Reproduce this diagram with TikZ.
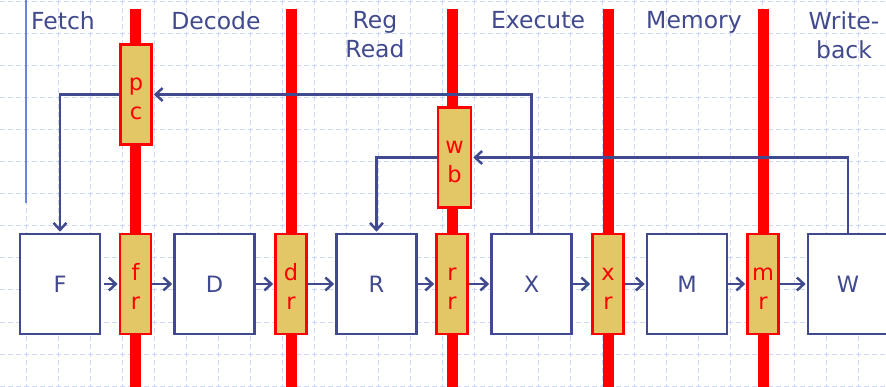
\documentclass[tikz,border=0pt]{standalone}
\usepackage{fontspec}
\setmainfont{DejaVu Sans}
\usetikzlibrary{arrows.meta}

\definecolor{navy}{HTML}{414A8E}
\definecolor{gold}{HTML}{E3C766}
\definecolor{pipered}{HTML}{FF0000}
\definecolor{gridblue}{HTML}{CCD8F6}
\definecolor{edgeblue}{HTML}{6B84E0}

% two stacked letters inside a pipeline register
\newcommand\regtxt[2]{\rule{0pt}{21pt}\smash{#1}\\\smash{#2}}

\begin{document}
\begin{tikzpicture}[x=1pt,y=-1pt,
  gridline/.style={gridblue, line width=1pt, dash pattern=on 5pt off 3pt},
  bar/.style={pipered, line width=11pt},
  stage/.style={draw=navy, fill=white, line width=2.6pt, minimum width=80pt,
    minimum height=100pt, inner sep=0pt, text=navy,
    font=\fontsize{22.5}{26}\selectfont},
  reg/.style={draw=pipered, fill=gold, line width=2.6pt, minimum width=31pt,
    minimum height=100pt, inner sep=0pt, text=pipered, align=center,
    font=\fontsize{22.5}{29}\selectfont},
  head/.style={text=navy, align=center, anchor=north, inner sep=0pt,
    font=\fontsize{23.5}{29}\selectfont},
  wire/.style={navy, line width=2.5pt},
  flow/.style={wire, -{Straight Barb[length=7pt,width=13pt]}, shorten >=1pt},
]
\useasboundingbox (0,0) rectangle (886,387);
\fill[white] (0,0) rectangle (886,387);

% background grid
\foreach \gx in {26,58,...,890} \draw[gridline] (\gx,0) -- (\gx,387);
\foreach \gy in {2,34,...,386} \draw[gridline] (0,\gy) -- (886,\gy);
\draw[edgeblue, line width=2pt] (26,0) -- (26,203);

% stage boundaries
\foreach \bx in {135.5,291,452,608,763} \draw[bar] (\bx,9) -- (\bx,387);

% stage headings
\node[head] (hF) at (63,11.5)  {Fetch};
\node[head] (hD) at (216,11.5) {Decode};
\node[head] (hR) at (375,11.5) {Reg\\Read};
\node[head] (hX) at (538,11.5) {Execute};
\node[head] (hM) at (694,11.5) {Memory};
\node[head] (hW) at (844,11.5) {Write-\\back};

% stage logic
\node[stage] (F) at (60,284)    {F};
\node[stage] (D) at (214.5,284) {D};
\node[stage] (R) at (376.5,284) {R};
\node[stage] (X) at (531.5,284) {X};
\node[stage] (M) at (687,284)   {M};
\node[stage] (W) at (848,284)   {W};

% pipeline registers
\node[reg] (fr) at (135.5,284) {\regtxt{f}{r}};
\node[reg] (dr) at (291,284)   {\regtxt{d}{r}};
\node[reg] (rr) at (452,284)   {\regtxt{r}{r}};
\node[reg] (xr) at (608,284)   {\regtxt{x}{r}};
\node[reg] (mr) at (763,284)   {\regtxt{m}{r}};
\node[reg] (pc) at (136,94.5)  {\regtxt{p}{c}};
\node[reg, minimum width=33pt] (wb) at (454.5,157.5) {\regtxt{w}{b}};

% forward datapath
\draw[flow, shorten <=3pt] (F) -- (fr);
\draw[flow] (fr) -- (D);
\draw[flow] (D) -- (dr);
\draw[flow] (dr) -- (R);
\draw[flow] (R) -- (rr);
\draw[flow] (rr) -- (X);
\draw[flow] (X) -- (xr);
\draw[flow] (xr) -- (M);
\draw[flow] (M) -- (mr);
\draw[flow] (mr) -- (W);

% feedback paths
\draw[flow] (X.north) |- (pc.east);
\draw[flow] (pc.west) -| (F.north);
\draw[flow] (W.north) |- (wb.east);
\draw[flow] (wb.west) -| (R.north);
\end{tikzpicture}
\end{document}
